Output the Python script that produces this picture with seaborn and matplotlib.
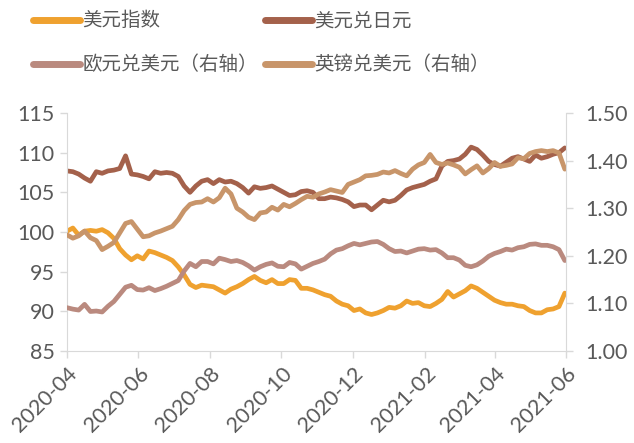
import pandas as pd
import matplotlib
matplotlib.use('Agg')
import matplotlib.pyplot as plt
import matplotlib.dates as mdates
import seaborn as sns

# 5-day samples
dates = pd.date_range('2020-04-01', periods=86, freq='5D')

usd_index = [
    100.1, 100.5, 99.6, 100.1, 100.2, 100.1, 100.3, 99.9, 99.2, 97.9,
    97.1, 96.5, 97.0, 96.6, 97.6, 97.4, 97.1, 96.8, 96.4, 95.6,
    94.6, 93.4, 93.0, 93.3, 93.2, 93.1, 92.7, 92.3, 92.8, 93.1,
    93.5, 94.0, 94.4, 93.9, 93.6, 94.0, 93.5, 93.5, 94.0, 93.9,
    92.9, 92.9, 92.7, 92.4, 92.1, 91.9, 91.3, 90.9, 90.7, 90.1,
    90.3, 89.8, 89.6, 89.8, 90.1, 90.5, 90.4, 90.7, 91.3, 91.0,
    91.1, 90.7, 90.6, 91.0, 91.5, 92.5, 91.8, 92.2, 92.6, 93.2,
    92.9, 92.4, 91.9, 91.4, 91.1, 90.9, 90.9, 90.7, 90.6, 90.1,
    89.8, 89.8, 90.2, 90.3, 90.6, 92.3,
]

usd_jpy = [
    107.7, 107.6, 107.3, 106.8, 106.4, 107.6, 107.4, 107.7, 107.8, 108.0,
    109.6, 107.3, 107.2, 107.0, 106.7, 107.6, 107.4, 107.5, 107.4, 107.0,
    105.8, 105.0, 105.8, 106.4, 106.6, 106.1, 106.6, 106.3, 106.4, 106.1,
    105.6, 104.9, 105.7, 105.5, 105.6, 105.8, 105.4, 105.0, 104.6, 104.7,
    105.1, 105.2, 105.0, 104.2, 104.2, 104.4, 104.3, 104.1, 103.8, 103.2,
    103.4, 103.4, 102.8, 103.4, 104.0, 103.8, 104.0, 104.6, 105.3, 105.6,
    105.8, 106.0, 106.4, 106.7, 108.3, 108.9, 109.0, 109.2, 109.8, 110.7,
    110.4, 109.7, 108.9, 108.5, 108.3, 108.8, 109.3, 109.5, 109.2, 108.9,
    109.7, 109.3, 109.5, 109.8, 110.0, 110.6,
]

eur_usd = [
    1.091, 1.088, 1.086, 1.098, 1.083, 1.084, 1.082, 1.094, 1.104, 1.119,
    1.134, 1.138, 1.129, 1.128, 1.133, 1.127, 1.131, 1.136, 1.142, 1.148,
    1.168, 1.184, 1.177, 1.188, 1.188, 1.183, 1.195, 1.192, 1.188, 1.190,
    1.186, 1.179, 1.170, 1.177, 1.182, 1.185, 1.178, 1.177, 1.186, 1.183,
    1.172, 1.178, 1.184, 1.188, 1.193, 1.204, 1.212, 1.215, 1.221, 1.226,
    1.223, 1.226, 1.229, 1.230, 1.224, 1.215, 1.209, 1.210, 1.206, 1.210,
    1.214, 1.215, 1.212, 1.213, 1.206, 1.196, 1.196, 1.191, 1.180, 1.177,
    1.181, 1.189, 1.199, 1.205, 1.209, 1.214, 1.212, 1.217, 1.219, 1.224,
    1.225, 1.222, 1.222, 1.219, 1.213, 1.190,
]

gbp_usd = [
    1.244, 1.237, 1.242, 1.252, 1.238, 1.232, 1.213, 1.220, 1.228, 1.248,
    1.268, 1.272, 1.256, 1.240, 1.242, 1.248, 1.252, 1.257, 1.262, 1.276,
    1.295, 1.308, 1.312, 1.313, 1.320, 1.313, 1.322, 1.342, 1.330, 1.300,
    1.292, 1.281, 1.276, 1.290, 1.292, 1.302, 1.296, 1.308, 1.303, 1.310,
    1.318, 1.325, 1.323, 1.330, 1.334, 1.339, 1.336, 1.333, 1.350, 1.355,
    1.360, 1.368, 1.369, 1.371, 1.376, 1.374, 1.379, 1.373, 1.368, 1.382,
    1.391, 1.396, 1.413, 1.396, 1.392, 1.395, 1.391, 1.386, 1.372, 1.381,
    1.389, 1.374, 1.383, 1.396, 1.388, 1.390, 1.393, 1.406, 1.404, 1.415,
    1.419, 1.421, 1.419, 1.421, 1.416, 1.382,
]

labels = ['美元指数', '美元兑日元', '欧元兑美元（右轴）', '英镑兑美元（右轴）']
colors = ['#EFA12F', '#A4614B', '#BA8A7F', '#C8956A']

sns.set_style('white')
plt.rcParams['font.family'] = ['Lato', 'Noto Sans CJK SC', 'DejaVu Sans']

grey = '#595959'
spine = '#D9D9D9'

fig = plt.figure(figsize=(6.34, 4.43), dpi=100)
ax = fig.add_axes([67 / 634, 1 - 351 / 443, (566 - 67) / 634, (351 - 113) / 443])
ax2 = ax.twinx()

lw = 3.4
sns.lineplot(x=dates, y=usd_index, ax=ax, color=colors[0], lw=lw, legend=False)
sns.lineplot(x=dates, y=usd_jpy, ax=ax, color=colors[1], lw=lw, legend=False)
sns.lineplot(x=dates, y=eur_usd, ax=ax2, color=colors[2], lw=lw, legend=False)
sns.lineplot(x=dates, y=gbp_usd, ax=ax2, color=colors[3], lw=lw, legend=False)

ax.set_ylim(85, 115)
ax.set_yticks(range(85, 116, 5))
ax2.set_ylim(1.0, 1.5)
ax2.set_yticks([1.0, 1.1, 1.2, 1.3, 1.4, 1.5])
ax2.yaxis.set_major_formatter(matplotlib.ticker.FormatStrFormatter('%.2f'))

ax.set_xlim(pd.Timestamp('2020-04-01'), pd.Timestamp('2021-06-01'))
ax.set_xticks(pd.date_range('2020-04-01', '2021-06-01', freq='2MS'))
ax.xaxis.set_major_formatter(mdates.DateFormatter('%Y-%m'))
plt.setp(ax.get_xticklabels(), rotation=45, ha='right', rotation_mode='anchor')

for a in (ax, ax2):
    a.set_xlabel('')
    a.set_ylabel('')
    for s in a.spines.values():
        s.set_color(spine)
    a.spines['top'].set_visible(False)
    a.tick_params(colors=spine, labelcolor=grey, labelsize=15.5, length=5, width=1)
ax.spines['right'].set_visible(False)
ax2.spines['left'].set_visible(False)
ax2.spines['bottom'].set_visible(False)
ax.tick_params(axis='y', left=True, pad=4)
ax.tick_params(axis='x', bottom=True, pad=4)
ax2.tick_params(axis='y', right=True, pad=9)

# legend laid out row by row: 2 columns, filled column-wise by matplotlib
order = [0, 2, 1, 3]
handles = [plt.Line2D([], [], color=colors[i], lw=5, solid_capstyle='round') for i in order]
fig.legend(handles, [labels[i] for i in order], loc='upper left',
           bbox_to_anchor=(33 / 634, 1 - 11 / 443),
           ncol=2, frameon=False, fontsize=14, labelcolor=grey,
           handlelength=2.4, handletextpad=0.15, columnspacing=0.35,
           labelspacing=1.3, borderpad=0, borderaxespad=0)

fig.savefig('out.png', dpi=100)
